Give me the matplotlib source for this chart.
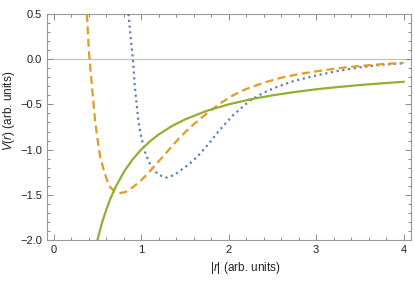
import matplotlib
matplotlib.use('Agg')
import matplotlib.pyplot as plt
from matplotlib.ticker import MultipleLocator

plt.rcParams['font.family'] = ['Liberation Sans', 'DejaVu Sans']
plt.rcParams['mathtext.fontset'] = 'custom'
plt.rcParams['mathtext.rm'] = 'Liberation Sans'
plt.rcParams['mathtext.it'] = 'Liberation Sans:italic'

# values
r_blue = [0.855, 0.88, 0.905, 0.93, 0.97, 1.00, 1.045, 1.09, 1.14, 1.20, 1.29, 1.38, 1.45,
          1.55, 1.65, 1.75, 1.90, 2.05, 2.24, 2.40, 2.57, 2.75, 3.00, 3.25, 3.50, 3.75, 4.00]
v_blue = [0.5, 0.24, 0.0, -0.33, -0.70, -0.86, -1.03, -1.14, -1.22, -1.28, -1.31, -1.28, -1.23,
          -1.16, -1.07, -0.96, -0.78, -0.62, -0.46, -0.37, -0.30, -0.24, -0.18, -0.13, -0.09, -0.062, -0.045]

r_orange = [0.38, 0.40, 0.41, 0.44, 0.475, 0.50, 0.53, 0.57, 0.61, 0.65, 0.70, 0.76, 0.82, 0.90,
            1.00, 1.10, 1.20, 1.30, 1.40, 1.50, 1.60, 1.75, 1.90, 2.05, 2.20, 2.40, 2.60, 2.80,
            3.00, 3.25, 3.50, 3.75, 4.00]
v_orange = [0.5, 0.12, 0.0, -0.33, -0.70, -0.88, -1.07, -1.22, -1.34, -1.42, -1.465, -1.48, -1.47, -1.42,
            -1.34, -1.24, -1.13, -1.02, -0.91, -0.81, -0.72, -0.60, -0.49, -0.40, -0.33, -0.26, -0.205, -0.165,
            -0.135, -0.10, -0.075, -0.055, -0.04]

r_green = [0.5, 0.55, 0.6, 0.65, 0.7, 0.8, 0.9, 1.0, 1.1, 1.2, 1.35, 1.5, 1.75, 2.0,
           2.25, 2.5, 2.75, 3.0, 3.25, 3.5, 3.75, 4.0]
v_green = [-2.0, -1.818, -1.667, -1.538, -1.429, -1.25, -1.111, -1.0, -0.909, -0.833, -0.741, -0.667,
           -0.571, -0.5, -0.444, -0.4, -0.364, -0.333, -0.308, -0.286, -0.267, -0.25]

fig = plt.figure(figsize=(4.15, 2.82), dpi=100)
ax = fig.add_axes([0.1125, 0.149, 0.877, 0.8014])

ax.axhline(0, color='#c0c0c0', lw=0.8, zorder=1)
ax.plot(r_blue, v_blue, color='#5E81B5', lw=1.6, ls=(0, (1.0, 1.6)), dash_capstyle='butt', zorder=3)
ax.plot(r_orange, v_orange, color='#E19C24', lw=1.6, ls=(0, (3.6, 2.0)), zorder=3)
ax.plot(r_green, v_green, color='#8FB032', lw=1.6, zorder=3)

ax.set_xlim(-0.08, 4.08)
ax.set_ylim(-2.0, 0.5)
ax.xaxis.set_major_locator(MultipleLocator(1))
ax.xaxis.set_minor_locator(MultipleLocator(0.2))
ax.yaxis.set_major_locator(MultipleLocator(0.5))
ax.yaxis.set_minor_locator(MultipleLocator(0.1))
ax.yaxis.set_major_formatter(plt.FuncFormatter(lambda v, p: ('%.1f' % v).replace('-', '\u2212')))

ax.tick_params(which='both', direction='in', top=True, right=True, colors='#888888',
               labelcolor='#222222', labelsize=8, width=0.7)
ax.tick_params(which='major', length=4)
ax.tick_params(which='minor', length=2)
for s in ax.spines.values():
    s.set_color('#999999')
    s.set_linewidth(0.8)

ax.set_xlabel('$|r|$ (arb. units)', fontsize=8.5, color='#222222', x=0.545, labelpad=4)
ax.set_ylabel('$V(r)$ (arb. units)', fontsize=8.5, color='#222222', y=0.57, labelpad=2)

fig.savefig('out.png', dpi=100)
